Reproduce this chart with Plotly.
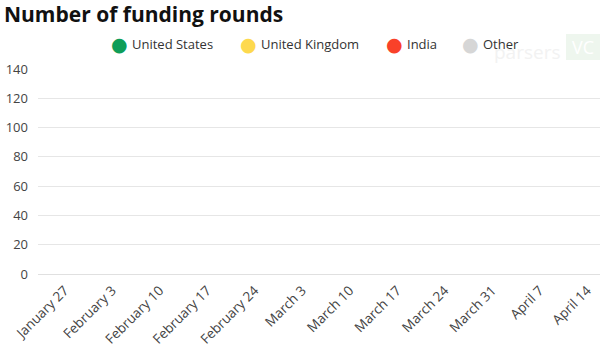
import plotly.graph_objects as go

weeks = ["January 27", "February 3", "February 10", "February 17", "February 24",
         "March 3", "March 10", "March 17", "March 24", "March 31", "April 7", "April 14"]
united_states = [0, 0, 0, 0, 0, 0, 0, 0, 0, 0, 0, 0]
united_kingdom = [0, 0, 0, 0, 0, 0, 0, 0, 0, 0, 0, 0]
india = [0, 0, 0, 0, 0, 0, 0, 0, 0, 0, 0, 0]
other = [0, 0, 0, 0, 0, 0, 0, 0, 0, 0, 0, 0]

series_names = ["United States", "United Kingdom", "India", "Other"]
series_values = [united_states, united_kingdom, india, other]
series_colors = ["#0F9D58", "#FDD94E", "#F94129", "#D6D6D6"]

FONT = "Open Sans"
PL, PB, PW, PH = 38, 76, 562, 205  # plot area in pixels


def px(x):
    return (x - PL) / PW


def py(y):
    return (350 - y - PB) / PH


fig = go.Figure()
for name, vals, col in zip(series_names, series_values, series_colors):
    fig.add_trace(go.Bar(x=weeks, y=vals, name=name, marker_color=col, showlegend=False))

# title
fig.add_annotation(xref="paper", yref="paper", x=px(2), y=py(14),
                   text="<b>Number of funding rounds</b>", showarrow=False,
                   xanchor="left", yanchor="middle",
                   font=dict(family=FONT, size=21, color="#111111"))

# faint watermark
fig.add_shape(type="rect", xref="paper", yref="paper",
              x0=px(566), x1=1.0, y0=py(60), y1=py(34),
              fillcolor="#eef6ee", line=dict(width=0), layer="below")
fig.add_annotation(xref="paper", yref="paper", x=px(563), y=py(52),
                   text="parsers", showarrow=False, xanchor="right", yanchor="middle",
                   font=dict(family=FONT, size=19, color="#f2f2f2"))
fig.add_annotation(xref="paper", yref="paper", x=px(583), y=py(47),
                   text="VC", showarrow=False, xanchor="center", yanchor="middle",
                   font=dict(family=FONT, size=18, color="#ffffff"))

# Legend built as annotations (circle + label)
legend_x = [119, 248, 394, 470]
for name, col, lx in zip(series_names, series_colors, legend_x):
    fig.add_annotation(
        xref="paper", yref="paper", x=px(lx), y=py(44),
        text="●", showarrow=False, xanchor="center", yanchor="middle",
        font=dict(family="DejaVu Sans", size=19, color=col),
    )
    fig.add_annotation(
        xref="paper", yref="paper", x=px(lx + 11), y=py(44),
        text=name, showarrow=False, xanchor="left", yanchor="middle",
        font=dict(family=FONT, size=13, color="#333333"),
    )

fig.update_layout(
    width=600, height=350,
    margin=dict(l=PL, r=0, t=69, b=PB, autoexpand=False),
    paper_bgcolor="white", plot_bgcolor="white",
    barmode="stack",
    font=dict(family=FONT, size=12, color="#444444"),
    xaxis=dict(type="category", range=[-0.56, 11.27], tickangle=-45,
               showgrid=False, showline=False, zeroline=False, ticks="",
               ticklabelstandoff=5,
               tickfont=dict(family=FONT, size=13.5, color="#444444")),
    yaxis=dict(range=[0, 140], dtick=20, showgrid=True, gridcolor="#e6e6e6", gridwidth=1,
               zeroline=True, zerolinecolor="#e0e0e0", zerolinewidth=1, showline=False,
               ticks="", ticklabelstandoff=9,
               tickfont=dict(family=FONT, size=13, color="#444444")),
)

fig.write_html("out.html")
